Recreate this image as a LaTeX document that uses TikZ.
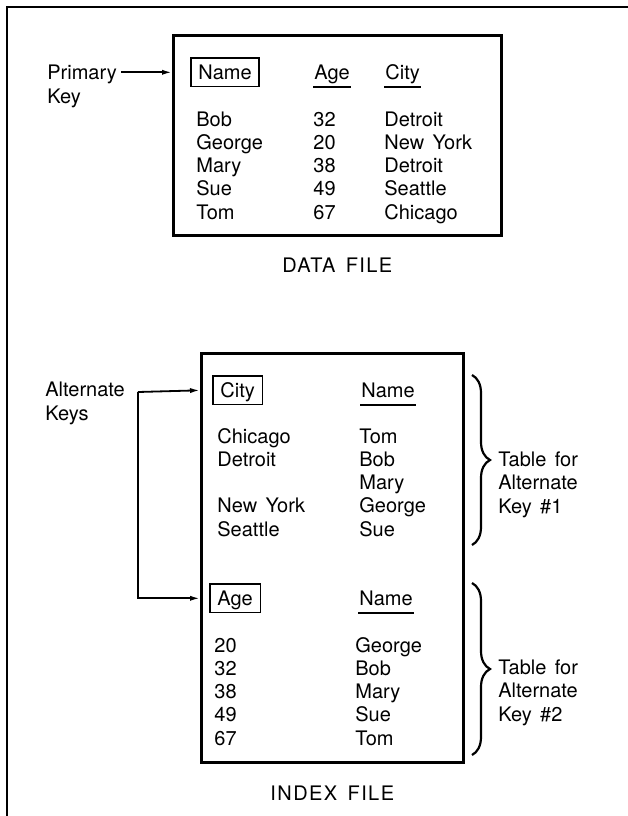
\documentclass[tikz,border=0pt]{standalone}
\usepackage{fontspec}
\setmainfont{TeX Gyre Heros}[WordSpace=1.5]
\usetikzlibrary{positioning, arrows.meta, decorations.pathreplacing}

\tikzset{
  filebox/.style={draw, line width=1.3pt, anchor=north west, inner sep=0pt},
  keybox/.style={draw, line width=0.8pt, anchor=base west, inner xsep=3.8pt, inner ysep=0pt, text height=10.5pt, text depth=3.8pt},
  hdr/.style={anchor=base west, inner xsep=0.5pt, inner ysep=0pt, text depth=3.6pt},
  col/.style={align=left, anchor=base west, inner sep=0pt}, % base = last line
  uline/.style={line width=0.9pt},
  conn/.style={line width=0.9pt, -{Latex[length=5pt, width=2.6pt]}},
  bracket/.style={line width=1.1pt, decorate, decoration={brace, amplitude=9pt}},
  caption/.style={inner sep=0pt, font=\fontsize{10}{12}\selectfont\addfontfeature{LetterSpace=7}}
}

\begin{document}
\begin{tikzpicture}[x=0.5pt, y=-0.5pt, font=\fontsize{10}{11.6}\selectfont]
    \useasboundingbox (0,0) rectangle (628,816);
    \draw[line width=1pt] (7,816) -- (7,7) -- (628,7);

    % data file
    \node[filebox, minimum width=164pt, minimum height=100pt] (datafile) at (172,34) {};
    \node[keybox] (namekey) at (190,79) {Name};
    \node[hdr] (agehdr) at (313,79) {Age};
    \node[hdr] (cityhdr) at (384,79) {City};
    \draw[uline] (agehdr.south west) -- (agehdr.south east);
    \draw[uline] (cityhdr.south west) -- (cityhdr.south east);
    \node[col] (names) at (196,219) {Bob\\George\\Mary\\Sue\\Tom};
    \node[col] (ages) at (313,219) {32\\20\\38\\49\\67};
    \node[col] (cities) at (384,219) {Detroit\\New York\\Detroit\\Seattle\\Chicago};
    \node[caption, below=10.5pt of datafile] (datacap) {DATA FILE};

    \node[col] (primary) at (47,103) {Primary\\Key};
    \draw[conn, shorten <=2pt] (primary.east |- namekey) -- (datafile.west |- namekey);

    % index file
    \node[filebox, minimum width=131pt, minimum height=204.5pt] (indexfile) at (200,352) {};
    \node[keybox] (citykey) at (212,397) {City};
    \node[hdr] (namehdra) at (360,397) {Name};
    \draw[uline] (namehdra.south west) -- (namehdra.south east);
    \node[col] (citylist) at (217,536) {Chicago\\Detroit\\[11.6pt]New York\\Seattle};
    \node[col] (namelista) at (359,536) {Tom\\Bob\\Mary\\George\\Sue};

    \node[keybox] (agekey) at (209,605) {Age};
    \node[hdr] (namehdrb) at (358,605) {Name};
    \draw[uline] (namehdrb.south west) -- (namehdrb.south east);
    \node[col] (agelist) at (214,745) {20\\32\\38\\49\\67};
    \node[col] (namelistb) at (355,745) {George\\Bob\\Mary\\Sue\\Tom};
    \node[caption, below=11pt of indexfile] (indexcap) {INDEX FILE};

    % braces
    \coordinate (bracea) at (472,375);
    \coordinate (braceb) at (472,545);
    \coordinate (bracec) at (472,583);
    \coordinate (braced) at (472,755);
    \draw[bracket] (bracea) -- (braceb);
    \draw[bracket] (bracec) -- (braced);
    \node[col] (tablea) at (498,513) {Table for\\Alternate\\Key \#1};
    \node[col] (tableb) at (498,721) {Table for\\Alternate\\Key \#2};

    \node[col] (altkeys) at (45,420) {Alternate\\Keys};
    \coordinate (fork) at (138,392);
    \draw[conn] (fork) -- (indexfile.west |- citykey);
    \draw[conn] (fork) |- (indexfile.west |- agekey);
\end{tikzpicture}
\end{document}
